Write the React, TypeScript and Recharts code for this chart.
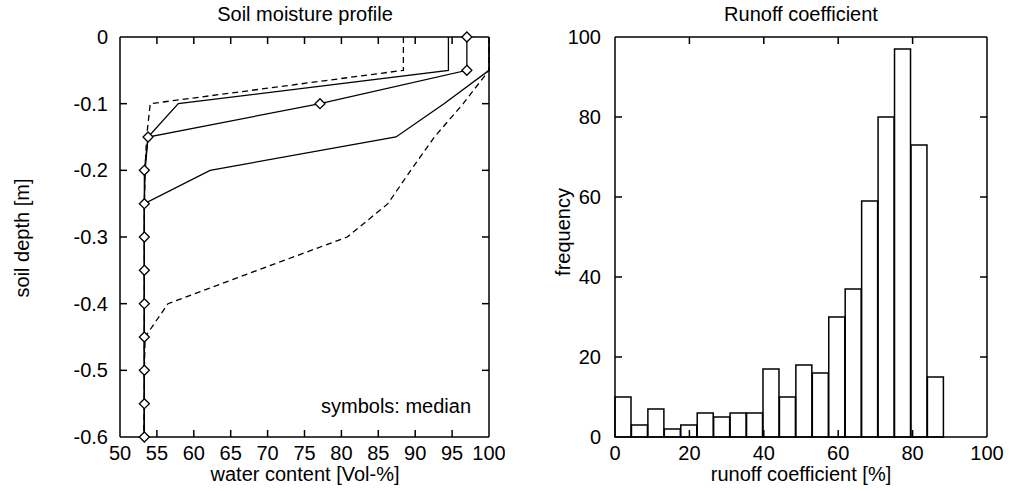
import React from 'react'
import { ScatterChart, ComposedChart, Scatter, Bar, XAxis, YAxis, ReferenceLine } from 'recharts'

// soil moisture profile: depth levels and water content per statistic
const DEPTHS = [0, -0.05, -0.1, -0.15, -0.2, -0.25, -0.3, -0.35, -0.4, -0.45, -0.5, -0.55, -0.6]
const MIN_WC = [88.4, 88.4, 54.1, 53.6, 53.4, 53.3, 53.3, 53.3, 53.3, 53.3, 53.3, 53.3, 53.2]
const Q25_WC = [94.5, 94.5, 57.9, 53.8, 53.4, 53.3, 53.3, 53.3, 53.3, 53.3, 53.3, 53.3, 53.3]
const MEDIAN_WC = [97.0, 97.0, 77.1, 53.8, 53.3, 53.3, 53.3, 53.3, 53.3, 53.3, 53.3, 53.3, 53.3]
const Q75_WC = [100, 100, 93.9, 87.4, 62.2, 53.3, 53.3, 53.3, 53.3, 53.3, 53.3, 53.3, 53.3]
const MAX_WC = [100, 100, 96.5, 92.6, 89.4, 86.3, 80.8, 68.6, 56.5, 53.4, 53.3, 53.3, 53.3]

const WC_TICKS = [50, 55, 60, 65, 70, 75, 80, 85, 90, 95, 100]
const DEPTH_TICKS = [-0.6, -0.5, -0.4, -0.3, -0.2, -0.1, 0]

// runoff coefficient histogram
const BIN_CENTERS = [2.21, 6.63, 11.05, 15.47, 19.89, 24.31, 28.73, 33.15, 37.57, 41.99, 46.41, 50.83, 55.25, 59.67, 64.09, 68.51, 72.93, 77.35, 81.77, 86.19]
const COUNTS = [10, 3, 7, 2, 3, 6, 5, 6, 6, 17, 10, 18, 16, 30, 37, 59, 80, 97, 73, 15]
const RC_TICKS = [0, 20, 40, 60, 80, 100]

const FONT = '"Liberation Sans", Arial, sans-serif'
const FS = 20
const INK = '#000'
const TICK_LEN = 7

const profile = (vals: number[]) => vals.map((wc, i) => ({ wc, depth: DEPTHS[i] }))
const histData = BIN_CENTERS.map((bin, i) => ({ bin, count: COUNTS[i] }))
const inner = (t: number[]) => t.slice(1, -1)

const axisLine = { stroke: INK, strokeWidth: 1.5 }
const tickStyle = { fill: INK, fontSize: FS, fontFamily: FONT }

// inward tick marks (gnuplot style), one small segment per tick value
const tickMark = (dx: number, dy: number) => (p: any) => (
  <line x1={p.cx} y1={p.cy} x2={p.cx + dx} y2={p.cy + dy} stroke={INK} strokeWidth={1.5} />
)
const upMark = tickMark(0, -TICK_LEN)
const downMark = tickMark(0, TICK_LEN)
const rightMark = tickMark(TICK_LEN, 0)
const leftMark = tickMark(-TICK_LEN, 0)

const noMark = () => <g />
const Diamond = (props: any) => {
  const { cx, cy } = props
  const r = 5
  return (
    <polygon
      points={`${cx},${cy - r} ${cx + r},${cy} ${cx},${cy + r} ${cx - r},${cy}`}
      fill="#fff"
      stroke={INK}
      strokeWidth={1.3}
    />
  )
}

const label = (text: string, style: React.CSSProperties) => (
  <div style={{ position: 'absolute', fontFamily: FONT, fontSize: FS, color: INK, whiteSpace: 'nowrap', lineHeight: 1, ...style }}>
    {text}
  </div>
)

export default function App() {
  const wcTop = inner(WC_TICKS).map((wc) => ({ wc, depth: 0 }))
  const wcBottom = inner(WC_TICKS).map((wc) => ({ wc, depth: -0.6 }))
  const dLeft = inner(DEPTH_TICKS).map((depth) => ({ wc: 50, depth }))
  const dRight = inner(DEPTH_TICKS).map((depth) => ({ wc: 100, depth }))

  const rcTop = inner(RC_TICKS).map((rc) => ({ rc, freq: 100 }))
  const rcBottom = inner(RC_TICKS).map((rc) => ({ rc, freq: 0 }))
  const fLeft = inner(RC_TICKS).map((freq) => ({ rc: 0, freq }))
  const fRight = inner(RC_TICKS).map((freq) => ({ rc: 100, freq }))

  return (
    <div style={{ position: 'absolute', left: 0, top: 0, width: 1010, height: 491, background: '#fff', overflow: 'hidden' }}>
      {/* Soil moisture profile */}
      <div style={{ position: 'absolute', left: 0, top: 0 }}>
        <ScatterChart width={505} height={491} margin={{ top: 37, right: 16, bottom: 0, left: 0 }}>
          <XAxis
            dataKey="wc" type="number" domain={[50, 100]} ticks={WC_TICKS}
            height={54} tickSize={0} tickMargin={9} axisLine={axisLine} tickLine={false} tick={tickStyle} interval={0}
          />
          <YAxis
            dataKey="depth" type="number" domain={[-0.6, 0]} ticks={DEPTH_TICKS}
            width={120} tickSize={0} tickMargin={12} axisLine={axisLine} tickLine={false} tick={tickStyle} interval={0}
          />
          <ReferenceLine y={0} stroke={INK} strokeWidth={1.5} />
          <ReferenceLine x={100} stroke={INK} strokeWidth={1.5} />
          <Scatter data={wcTop} shape={downMark} isAnimationActive={false} />
          <Scatter data={wcBottom} shape={upMark} isAnimationActive={false} />
          <Scatter data={dLeft} shape={rightMark} isAnimationActive={false} />
          <Scatter data={dRight} shape={leftMark} isAnimationActive={false} />
          <Scatter data={profile(MIN_WC)} shape={noMark} line={{ stroke: INK, strokeWidth: 1.3, strokeDasharray: '6 4' }} isAnimationActive={false} />
          <Scatter data={profile(MAX_WC)} shape={noMark} line={{ stroke: INK, strokeWidth: 1.3, strokeDasharray: '6 4' }} isAnimationActive={false} />
          <Scatter data={profile(Q25_WC)} shape={noMark} line={{ stroke: INK, strokeWidth: 1.3 }} isAnimationActive={false} />
          <Scatter data={profile(Q75_WC)} shape={noMark} line={{ stroke: INK, strokeWidth: 1.3 }} isAnimationActive={false} />
          <Scatter data={profile(MEDIAN_WC)} shape={Diamond} line={{ stroke: INK, strokeWidth: 1.3 }} isAnimationActive={false} />
        </ScatterChart>
        {label('Soil moisture profile', { left: 305, top: 4, transform: 'translateX(-50%)' })}
        {label('water content [Vol-%]', { left: 305, top: 464, transform: 'translateX(-50%)' })}
        {label('soil depth [m]', { left: 22, top: 238, transform: 'translate(-50%, -50%) rotate(-90deg)' })}
        {label('symbols: median', { left: 321, top: 396 })}
      </div>

      {/* Runoff coefficient */}
      <div style={{ position: 'absolute', left: 505, top: 0 }}>
        <ComposedChart width={505} height={491} data={histData} margin={{ top: 37, right: 23, bottom: 0, left: 0 }} barCategoryGap={0} barGap={0}>
          <XAxis
            xAxisId="h" dataKey="bin" type="number" domain={[0, 100]} ticks={RC_TICKS}
            height={54} tickSize={0} tickMargin={9} axisLine={axisLine} tickLine={false} tick={tickStyle} interval={0}
          />
          <YAxis
            yAxisId="h" type="number" domain={[0, 100]} ticks={RC_TICKS}
            width={110} tickSize={0} tickMargin={14} axisLine={axisLine} tickLine={false} tick={tickStyle} interval={0}
          />
          {/* hidden twin axes for the tick marks, so they do not change the bar widths */}
          <XAxis xAxisId="t" dataKey="rc" type="number" domain={[0, 100]} hide />
          <YAxis yAxisId="t" dataKey="freq" type="number" domain={[0, 100]} hide />
          <ReferenceLine xAxisId="h" yAxisId="h" y={100} stroke={INK} strokeWidth={1.5} />
          <ReferenceLine xAxisId="h" yAxisId="h" x={100} stroke={INK} strokeWidth={1.5} />
          <Bar xAxisId="h" yAxisId="h" dataKey="count" fill="none" stroke={INK} strokeWidth={1.5} isAnimationActive={false} />
          <Scatter xAxisId="t" yAxisId="t" data={rcTop} dataKey="freq" shape={downMark} isAnimationActive={false} />
          <Scatter xAxisId="t" yAxisId="t" data={rcBottom} dataKey="freq" shape={upMark} isAnimationActive={false} />
          <Scatter xAxisId="t" yAxisId="t" data={fLeft} dataKey="freq" shape={rightMark} isAnimationActive={false} />
          <Scatter xAxisId="t" yAxisId="t" data={fRight} dataKey="freq" shape={leftMark} isAnimationActive={false} />
        </ComposedChart>
        {label('Runoff coefficient', { left: 296, top: 4, transform: 'translateX(-50%)' })}
        {label('runoff coefficient [%]', { left: 296, top: 464, transform: 'translateX(-50%)' })}
        {label('frequency', { left: 58, top: 232, transform: 'translate(-50%, -50%) rotate(-90deg)' })}
      </div>
    </div>
  )
}
